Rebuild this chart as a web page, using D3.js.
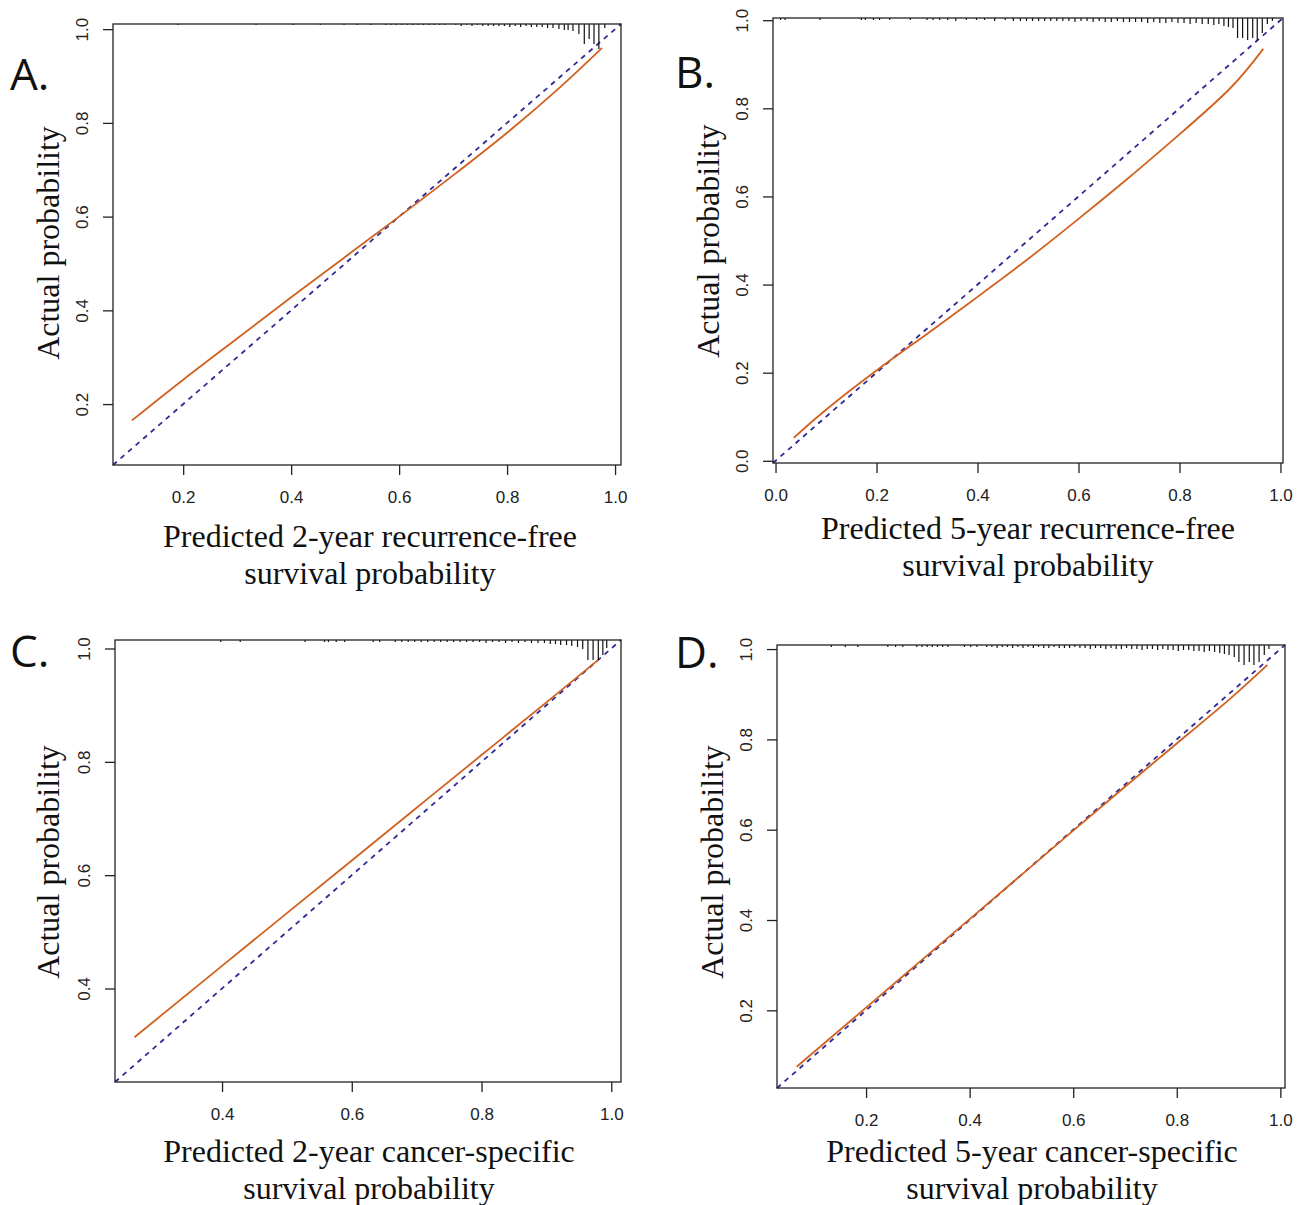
<!DOCTYPE html>
<html>
<head>
<meta charset="utf-8">
<script src="https://cdn.jsdelivr.net/npm/d3@7"></script>
<style>
  html, body { margin: 0; padding: 0; background: #fff; }
  svg { display: block; }
</style>
</head>
<body>
<svg id="chart" width="1302" height="1205"></svg>
<script>
// ---------------- DATA ----------------
const panelLetters = ["A.", "B.", "C.", "D."];
const xTitleLine1 = ["Predicted 2-year recurrence-free", "Predicted 5-year recurrence-free",
                     "Predicted 2-year cancer-specific", "Predicted 5-year cancer-specific"];
const xTitleLine2 = ["survival probability", "survival probability", "survival probability", "survival probability"];
const yTitle = "Actual probability";

// Axis ticks
const ticksA = [0.2, 0.4, 0.6, 0.8, 1.0];
const ticksB = [0.0, 0.2, 0.4, 0.6, 0.8, 1.0];
const ticksC = [0.4, 0.6, 0.8, 1.0];
const ticksD = [0.2, 0.4, 0.6, 0.8, 1.0];

// Axis limits (same for x and y in each panel)
const limA = [0.070, 1.011];
const limB = [-0.005, 1.005];
const limC = [0.235, 1.015];
const limD = [0.028, 1.009];

// Calibration curves (predicted vs actual)
const predA = [0.105, 0.2, 0.3, 0.4, 0.5, 0.6, 0.7, 0.8, 0.9, 0.976];
const obsA  = [0.165, 0.252, 0.340, 0.428, 0.514, 0.600, 0.688, 0.779, 0.878, 0.960];
const predB = [0.036, 0.1, 0.2, 0.3, 0.4, 0.5, 0.6, 0.7, 0.8, 0.9, 0.966];
const obsB  = [0.052, 0.116, 0.205, 0.288, 0.372, 0.458, 0.549, 0.643, 0.741, 0.845, 0.935];
const predC = [0.265, 0.4, 0.5, 0.6, 0.7, 0.8, 0.9, 0.980];
const obsC  = [0.314, 0.440, 0.533, 0.626, 0.719, 0.812, 0.905, 0.980];
const predD = [0.066, 0.2, 0.3, 0.4, 0.5, 0.6, 0.7, 0.8, 0.9, 0.975];
const obsD  = [0.075, 0.206, 0.304, 0.402, 0.500, 0.598, 0.695, 0.791, 0.887, 0.965];

// Rug (frequency of predicted probabilities) at the top
const rugXA = [0.19,0.335,0.404,0.454,0.498,0.522,0.548,0.575,0.585,0.595,0.605,0.615,0.625,0.635,0.645,0.655,0.665,0.675,0.685,0.705,0.715,0.725,0.735,0.745,0.755,0.765,0.775,0.785,0.795,0.805,0.815,0.825,0.835,0.845,0.855,0.865,0.875,0.885,0.896,0.906,0.913,0.922,0.933,0.943,0.952,0.961,0.970,0.981];
const rugNA = [1,1,1,1,1,1,1,1,1,1,1,1,1,1,1,1,1,1,1,1,2,1,2,1,2,2,2,2,2,3,2,3,2,3,3,3,4,4,5,6,6,7,10,20,15,20,25,4];

const rugXB = [0.010,0.019,0.088,0.170,0.178,0.194,0.206,0.226,0.267,0.300,0.312,0.325,0.341,0.357,0.378,0.398,0.414,0.434,0.455,0.471,0.485,0.497,0.509,0.521,0.533,0.545,0.557,0.569,0.581,0.593,0.605,0.617,0.629,0.641,0.653,0.665,0.677,0.689,0.701,0.713,0.725,0.737,0.749,0.761,0.773,0.785,0.797,0.809,0.821,0.833,0.845,0.857,0.868,0.878,0.888,0.897,0.906,0.915,0.925,0.935,0.945,0.954,0.964,0.974,0.984];
const rugNB = [2,2,2,2,2,2,2,2,2,2,2,2,2,3,2,2,2,3,2,3,3,3,3,3,3,3,3,3,3,4,3,3,4,3,4,4,3,4,4,4,4,5,4,5,5,4,5,5,6,5,6,6,7,6,8,9,10,20,20,22,20,23,15,6,3];

const rugXC = [0.398,0.428,0.528,0.558,0.564,0.576,0.589,0.633,0.643,0.667,0.677,0.687,0.697,0.707,0.717,0.727,0.737,0.747,0.757,0.767,0.777,0.787,0.797,0.807,0.817,0.827,0.837,0.847,0.857,0.867,0.877,0.887,0.897,0.906,0.914,0.922,0.931,0.939,0.948,0.956,0.964,0.972,0.980,0.987,0.993];
const rugNC = [2,2,2,2,2,2,2,2,2,2,2,2,2,2,2,2,2,2,2,2,2,2,2,3,2,2,3,2,3,2,3,3,3,4,4,5,5,6,7,9,20,20,20,15,8];

const rugXD = [0.133,0.160,0.184,0.242,0.257,0.271,0.298,0.308,0.318,0.328,0.338,0.348,0.358,0.390,0.402,0.414,0.433,0.443,0.453,0.463,0.473,0.483,0.493,0.503,0.513,0.523,0.533,0.543,0.553,0.563,0.573,0.583,0.593,0.603,0.613,0.623,0.633,0.643,0.653,0.663,0.673,0.683,0.693,0.703,0.713,0.723,0.733,0.743,0.753,0.763,0.773,0.783,0.793,0.803,0.813,0.823,0.833,0.843,0.853,0.863,0.873,0.883,0.892,0.901,0.911,0.920,0.930,0.940,0.949,0.959,0.969,0.978];
const rugND = [2,2,2,2,2,2,2,2,2,2,2,2,2,2,2,2,2,2,3,2,2,3,2,3,2,3,2,3,3,2,3,3,3,2,3,3,4,3,3,4,3,4,4,3,4,4,5,4,4,5,4,5,5,6,5,5,6,6,7,6,7,8,9,10,12,17,20,17,20,17,10,4];

// ---------------- LAYOUT ----------------
const layouts = [
  { box: [113, 24, 621, 465], letter: [10, 90],  yLab: [59, 243],  xLab: [370, 547],  ticks: ticksA, lim: limA, pred: predA, obs: obsA, rugX: rugXA, rugN: rugNA },
  { box: [773, 18, 1283, 463], letter: [675, 88], yLab: [719, 241], xLab: [1028, 539], ticks: ticksB, lim: limB, pred: predB, obs: obsB, rugX: rugXB, rugN: rugNB },
  { box: [115, 640, 621, 1082], letter: [10, 667], yLab: [59, 862], xLab: [369, 1162], ticks: ticksC, lim: limC, pred: predC, obs: obsC, rugX: rugXC, rugN: rugNC },
  { box: [777, 645, 1285, 1088], letter: [675, 668], yLab: [723, 862], xLab: [1032, 1162], ticks: ticksD, lim: limD, pred: predD, obs: obsD, rugX: rugXD, rugN: rugND }
];

const svg = d3.select("#chart");
const fmt = d3.format(".1f");
const rugLen = d3.scaleLinear().domain([0, 25]).range([0, 25]);
const serif = "Liberation Serif, Times New Roman, serif";
const sans = "Liberation Sans, Arial, Helvetica, sans-serif";

layouts.forEach((L, i) => {
  const [x0, y0, x1, y1] = L.box;
  const x = d3.scaleLinear().domain(L.lim).range([x0, x1]);
  const y = d3.scaleLinear().domain(L.lim).range([y1, y0]);
  const g = svg.append("g");

  // ideal diagonal
  const diag = L.lim;
  g.append("line")
    .attr("x1", x(diag[0])).attr("y1", y(diag[0]))
    .attr("x2", x(diag[1])).attr("y2", y(diag[1]))
    .attr("stroke", "#2e2a94").attr("stroke-width", 1.8)
    .attr("stroke-dasharray", "5,5");

  // calibration curve
  const pts = L.pred.map((p, k) => [p, L.obs[k]]);
  g.append("path")
    .datum(pts)
    .attr("fill", "none")
    .attr("stroke", "#d2601f")
    .attr("stroke-width", 1.8)
    .attr("d", d3.line().x(d => x(d[0])).y(d => y(d[1])).curve(d3.curveNatural));

  // rug at top
  g.selectAll("line.rug")
    .data(L.rugX.map((v, k) => [v, L.rugN[k]]))
    .join("line")
    .attr("class", "rug")
    .attr("x1", d => x(d[0])).attr("x2", d => x(d[0]))
    .attr("y1", y0).attr("y2", d => y0 + rugLen(d[1]))
    .attr("stroke", "#111").attr("stroke-width", 1.2);

  // box
  g.append("rect")
    .attr("x", x0).attr("y", y0).attr("width", x1 - x0).attr("height", y1 - y0)
    .attr("fill", "none").attr("stroke", "#222").attr("stroke-width", 1.3);

  // x axis
  const xAxis = d3.axisBottom(x).tickValues(L.ticks).tickFormat(fmt).tickSize(10).tickPadding(16);
  const gx = g.append("g").attr("transform", `translate(0,${y1})`).call(xAxis);
  gx.select(".domain").remove();
  gx.selectAll("line").attr("stroke", "#222").attr("stroke-width", 1.3);
  gx.selectAll("text").attr("font-family", sans)
    .attr("font-size", 17).attr("fill", "#222");

  // y axis (rotated labels)
  const yAxis = d3.axisLeft(y).tickValues(L.ticks).tickFormat(fmt).tickSize(10).tickPadding(0);
  const gy = g.append("g").attr("transform", `translate(${x0},0)`).call(yAxis);
  gy.select(".domain").remove();
  gy.selectAll("line").attr("stroke", "#222").attr("stroke-width", 1.3);
  gy.selectAll("text")
    .attr("x", null).attr("dy", null)
    .attr("text-anchor", "middle")
    .attr("transform", "translate(-25,0) rotate(-90)")
    .attr("font-family", sans)
    .attr("font-size", 17).attr("fill", "#222");

  // axis titles
  g.append("text")
    .attr("transform", `translate(${L.yLab[0]},${L.yLab[1]}) rotate(-90)`)
    .attr("text-anchor", "middle")
    .attr("font-family", serif)
    .attr("font-size", 32).attr("fill", "#111")
    .text(yTitle);

  g.append("text")
    .attr("x", L.xLab[0]).attr("y", L.xLab[1])
    .attr("text-anchor", "middle")
    .attr("font-family", serif)
    .attr("font-size", 32).attr("fill", "#111")
    .text(xTitleLine1[i]);
  g.append("text")
    .attr("x", L.xLab[0]).attr("y", L.xLab[1] + 37)
    .attr("text-anchor", "middle")
    .attr("font-family", serif)
    .attr("font-size", 32).attr("fill", "#111")
    .text(xTitleLine2[i]);

  // panel letter
  g.append("text")
    .attr("x", L.letter[0]).attr("y", L.letter[1])
    .attr("font-family", "Open Sans, Noto Sans, sans-serif")
    .attr("font-size", 44).attr("fill", "#111")
    .text(panelLetters[i]);
});
</script>
</body>
</html>
